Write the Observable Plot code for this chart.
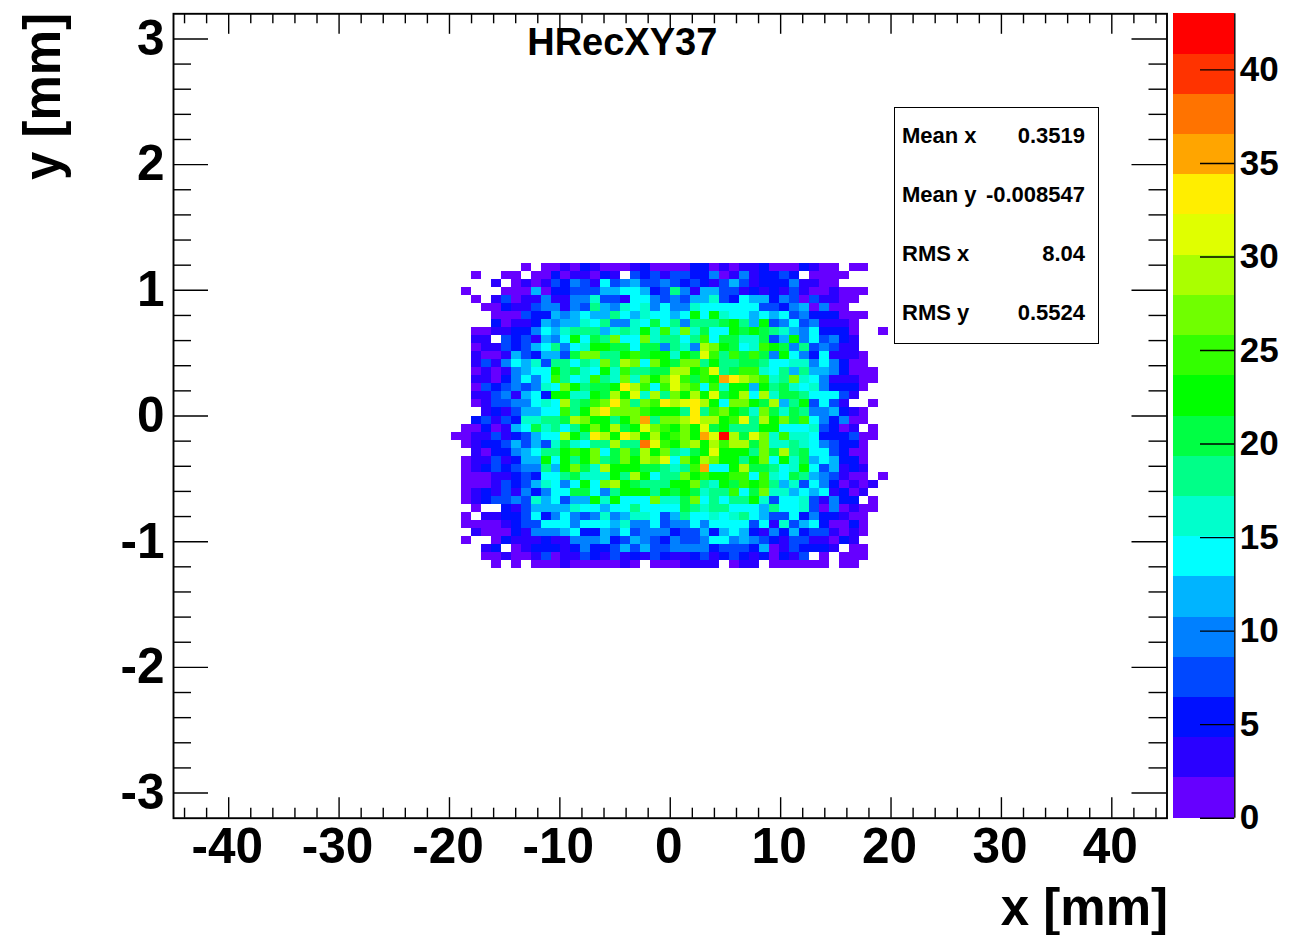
<!DOCTYPE html>
<html><head><meta charset="utf-8">
<script src="https://cdn.jsdelivr.net/npm/d3@7"></script>
<script src="https://cdn.jsdelivr.net/npm/@observablehq/plot@0.6"></script>
<style>
html,body{margin:0;padding:0;background:#fff;overflow:hidden}
#wrap{position:relative;width:1302px;height:935px;font-family:"Liberation Sans",Arial,sans-serif;font-weight:700;color:#000}
#wrap svg{position:absolute;top:0;background:transparent}
#stats{position:absolute;left:894px;top:107px;width:203px;height:235px;border:1.8px solid #000;background:#fff;font-size:22px;line-height:26px}
#stats .l{position:absolute;left:7px}
#stats .r{position:absolute;right:13px}
</style></head><body><div id="wrap"></div>
<script>
// Bin counts, lowest row first; first column is bin 28 of 100 on each axis
const row31=[0,0,0,0,1,0,1,0,1,1,1,3,1,1,1,1,1,3,1,0,1,1,1,3,3,3,3,0,1,3,3,0,1,1,1,1,1,1,0,1,1,0,0,0];
const row32=[0,0,0,1,1,3,1,1,3,7,1,3,3,7,5,3,7,3,5,3,7,5,3,3,5,7,3,5,7,5,3,5,1,5,3,7,0,1,0,1,1,1,0,0];
const row33=[0,0,0,3,5,0,1,3,5,5,5,3,5,9,5,5,7,11,7,11,7,7,9,9,9,9,5,7,7,7,5,11,1,3,7,5,5,5,3,0,1,1,0,0];
const row34=[0,1,0,0,1,5,3,3,3,5,3,3,9,9,9,11,5,7,11,9,7,5,9,7,7,9,14,14,9,11,9,7,5,3,7,7,3,3,1,5,3,0,0,0];
const row35=[0,0,3,1,1,1,5,3,9,9,9,11,14,5,5,11,9,14,7,9,9,9,5,7,7,11,5,11,14,11,5,3,9,5,11,5,7,7,3,1,3,1,0,0];
const row36=[0,1,1,1,1,3,5,7,7,14,14,14,9,14,14,14,11,16,9,9,14,7,9,9,14,9,14,14,14,14,7,14,3,16,7,11,14,5,1,1,5,1,0,0];
const row37=[0,1,0,3,3,5,5,7,14,5,9,14,9,7,9,16,9,11,16,16,14,7,11,18,14,14,16,14,16,18,14,11,7,7,14,5,9,5,5,3,1,1,0,0];
const row38=[0,0,1,0,0,5,3,7,11,11,11,11,16,14,14,11,14,14,18,14,14,14,14,20,18,16,18,18,14,14,14,11,18,14,14,16,7,1,9,1,3,1,1,0];
const row39=[0,1,3,5,7,7,9,7,16,11,14,7,11,11,22,16,22,14,14,14,26,16,16,20,26,14,18,14,18,18,22,16,7,14,14,16,7,3,9,5,5,0,1,0];
const row40=[0,1,3,5,3,7,3,9,5,9,14,14,20,20,14,9,18,22,22,22,18,22,20,22,20,16,18,18,24,14,20,26,16,16,11,14,11,14,3,5,1,3,0,0];
const row41=[0,1,1,1,3,7,5,7,11,16,14,9,14,22,14,26,29,22,20,18,18,18,22,22,26,18,16,22,20,24,22,24,18,11,16,7,14,9,5,1,3,1,3,0];
const row42=[0,1,1,1,3,3,5,7,5,14,14,18,20,16,16,16,22,18,29,22,14,18,18,26,22,24,22,22,24,24,14,24,16,14,20,18,11,9,7,3,1,1,0,1];
const row43=[0,1,3,5,7,5,7,9,9,18,11,22,26,20,16,29,22,22,22,20,20,18,16,18,24,35,14,14,22,29,20,20,18,14,16,22,14,7,11,3,5,3,0,0];
const row44=[0,1,3,3,7,3,5,11,11,22,14,22,18,22,26,18,20,26,22,29,26,31,14,26,22,29,26,22,22,18,22,26,14,22,16,20,11,14,11,5,5,1,0,0];
const row45=[0,0,3,1,5,5,9,11,14,18,18,22,24,22,26,14,20,26,20,29,22,26,18,16,20,22,31,22,22,22,18,26,20,29,18,20,14,14,7,5,1,1,0,0];
const row46=[0,1,3,5,5,7,11,7,11,7,16,20,16,14,18,18,29,18,18,37,31,24,22,26,29,22,29,24,29,29,20,26,16,16,18,16,14,9,7,5,5,1,0,0];
const row47=[1,1,3,3,7,3,5,7,11,14,14,29,22,18,33,29,22,33,29,22,29,22,24,26,22,35,31,42,29,20,31,26,16,24,16,16,14,5,5,5,7,1,1,0];
const row48=[0,1,1,5,1,3,11,14,20,16,18,14,18,22,26,22,29,20,22,31,26,24,22,26,22,31,20,22,18,18,18,22,22,14,14,14,16,7,5,1,3,0,1,0];
const row49=[0,0,5,7,3,7,5,16,16,18,18,20,29,26,22,22,18,22,26,35,18,26,26,29,33,29,29,22,24,31,18,29,22,26,20,24,14,9,5,9,1,1,0,0];
const row50=[0,0,0,3,5,3,7,11,11,14,14,24,18,22,29,33,26,26,26,24,22,22,22,18,33,18,24,26,22,20,16,26,20,16,20,18,9,9,11,5,3,1,0,0];
const row51=[0,0,1,3,7,7,9,9,14,16,14,29,18,20,24,26,33,26,18,26,24,33,29,31,33,29,22,14,26,26,22,20,29,11,18,22,7,14,7,3,0,0,1,0];
const row52=[0,0,3,3,7,9,3,11,14,5,22,22,16,16,22,20,29,22,31,16,29,18,26,22,29,22,31,20,22,29,14,29,16,20,20,18,14,14,14,7,3,0,0,0];
const row53=[0,0,1,7,5,7,9,7,9,16,14,26,22,18,20,20,22,33,29,24,14,24,31,26,24,14,24,16,22,22,11,22,18,20,16,14,16,9,5,5,5,1,0,0];
const row54=[0,0,3,3,1,5,9,14,9,14,24,18,14,16,24,18,16,26,16,26,22,26,31,24,20,24,22,35,33,29,26,24,16,18,26,16,14,9,3,3,3,1,1,0];
const row55=[0,0,1,3,1,3,9,11,14,14,22,18,20,16,14,22,16,24,18,18,20,20,29,29,22,24,31,18,20,24,24,16,14,18,11,18,11,11,9,5,1,1,1,0];
const row56=[0,0,3,7,3,9,14,11,16,7,18,18,14,18,16,26,18,29,26,14,26,22,20,26,26,18,22,18,18,20,20,18,14,14,16,16,9,14,9,5,1,1,0,0];
const row57=[0,0,3,1,1,3,11,7,5,11,11,7,20,26,26,18,18,22,24,20,22,22,16,22,20,31,24,18,24,20,24,20,9,22,14,9,5,14,3,3,3,1,0,0];
const row58=[0,0,1,3,3,7,5,7,11,14,18,9,14,16,22,22,20,20,14,20,20,9,18,16,9,29,26,22,20,14,16,24,22,20,9,18,7,9,7,3,3,0,0,0];
const row59=[0,0,3,3,0,7,5,7,3,11,9,14,22,14,20,18,26,14,14,26,16,18,18,14,18,24,14,20,20,16,16,20,7,11,22,9,14,7,9,5,3,0,0,0];
const row60=[0,0,1,1,3,3,5,5,9,14,11,16,18,18,18,11,16,18,16,22,16,24,16,26,16,20,14,14,22,20,22,20,18,16,11,9,14,5,5,5,1,0,0,1];
const row61=[0,0,0,0,5,1,3,3,5,11,9,11,11,16,14,18,9,9,16,14,20,14,18,9,18,18,18,20,22,18,11,22,7,9,14,7,9,3,3,3,1,0,0,0];
const row62=[0,0,0,0,1,1,1,7,5,5,11,9,11,14,11,11,18,14,11,16,14,14,11,14,22,14,22,16,14,14,11,14,11,14,7,9,5,5,5,1,1,1,0,0];
const row63=[0,0,0,1,1,5,3,3,7,9,9,3,9,7,18,11,9,16,14,16,9,14,9,9,16,14,14,14,14,14,14,7,7,5,9,11,1,9,1,1,0,0,0,0];
const row64=[0,0,1,0,3,7,1,3,3,9,3,3,9,9,16,7,7,3,14,14,9,7,9,7,11,11,16,7,5,14,11,11,5,9,7,1,7,3,3,1,1,0,0,0];
const row65=[0,1,0,0,0,1,1,1,11,1,5,5,7,7,7,11,11,14,14,11,5,7,18,9,3,11,11,7,7,3,5,3,5,3,7,3,1,1,3,1,1,1,0,0];
const row66=[0,0,0,0,3,0,1,3,1,3,7,5,9,7,3,14,7,9,11,7,7,9,7,5,7,5,3,7,11,7,3,5,5,5,9,3,3,1,1,0,0,0,0,0];
const row67=[0,0,1,0,0,1,1,0,1,1,5,1,3,3,1,5,3,0,7,5,7,3,7,7,5,5,9,1,3,9,3,5,5,7,5,0,1,1,1,1,0,0,0,0];
const row68=[0,0,0,0,0,0,0,1,0,1,1,3,1,5,3,1,1,1,3,5,1,1,1,1,5,5,1,3,1,3,3,5,1,1,1,5,3,1,1,0,1,1,0,0];
const rows=[row31,row32,row33,row34,row35,row36,row37,row38,row39,row40,row41,row42,row43,row44,row45,row46,row47,row48,row49,row50,row51,row52,row53,row54,row55,row56,row57,row58,row59,row60,row61,row62,row63,row64,row65,row66,row67,row68];

const palette=["#6600ff","#2a00ff","#0010ff","#0048ff","#0080ff","#00b4ff","#00ffff","#00ffcc","#00ff88","#00ff44","#00ff00","#33ff00","#70ff00","#aaff00","#e0ff00","#ffee00","#ffa500","#ff7300","#ff3300","#ff0000"];
const zMax=43;
const xMajor=[-40,-30,-20,-10,0,10,20,30,40];
const xMinor=[-44,-42,-38,-36,-34,-32,-28,-26,-24,-22,-18,-16,-14,-12,-8,-6,-4,-2,2,4,6,8,12,14,16,18,22,24,26,28,32,34,36,38,42,44];
const yMajor=[-3,-2,-1,0,1,2,3];
const yMinor=[-2.8,-2.6,-2.4,-2.2,-1.8,-1.6,-1.4,-1.2,-0.8,-0.6,-0.4,-0.2,0.2,0.4,0.6,0.8,1.2,1.4,1.6,1.8,2.2,2.4,2.6,2.8];
const zTicks=[0,5,10,15,20,25,30,35,40];
const statNames=["Mean x","Mean y","RMS x","RMS y"];
const statValues=["0.3519","-0.008547","8.04","0.5524"];
const titleText="HRecXY37", xTitle="x [mm]", yTitle="y [mm]";

const xBin=90/100, yBin=6.4/100, firstCol=28, firstRow=31;
const cells=rows.flatMap((r,j)=>r.map((v,i)=>({
  x1:-45+xBin*(firstCol+i), x2:-45+xBin*(firstCol+i+1),
  y1:-3.2+yBin*(firstRow+j), y2:-3.2+yBin*(firstRow+j+1), v})).filter(c=>c.v>0));
const bandSize=zMax/palette.length;
const bands=palette.map((c,k)=>({z1:k*bandSize,z2:(k+1)*bandSize,c}));
const font={fontFamily:"Liberation Sans, Arial, sans-serif",fontWeight:700};
const H=804.4,W=993.5;

const main=Plot.plot({
  width:1302,height:935,marginLeft:173,marginRight:135.5,marginTop:13.3,marginBottom:117.3,
  style:{background:"transparent",...font,overflow:"visible"},
  x:{domain:[-45,45]},y:{domain:[-3.2,3.2]},
  color:{type:"threshold",domain:palette.slice(1).map((_,k)=>(k+1)*bandSize),range:palette},
  marks:[
    Plot.rect(cells,{x1:"x1",x2:"x2",y1:"y1",y2:"y2",fill:"v",shapeRendering:"crispEdges"}),
    Plot.tickX(xMajor,{x:d=>d,insetTop:H-20.5,stroke:"#000",strokeWidth:1.4}),
    Plot.tickX(xMajor,{x:d=>d,insetBottom:H-20.5,stroke:"#000",strokeWidth:1.4}),
    Plot.tickX(xMinor,{x:d=>d,insetTop:H-10,stroke:"#000",strokeWidth:1.4}),
    Plot.tickX(xMinor,{x:d=>d,insetBottom:H-10,stroke:"#000",strokeWidth:1.4}),
    Plot.tickY(yMajor,{y:d=>d,insetRight:W-35,stroke:"#000",strokeWidth:1.4}),
    Plot.tickY(yMajor,{y:d=>d,insetLeft:W-35,stroke:"#000",strokeWidth:1.4}),
    Plot.tickY(yMinor,{y:d=>d,insetRight:W-18,stroke:"#000",strokeWidth:1.4}),
    Plot.tickY(yMinor,{y:d=>d,insetLeft:W-18,stroke:"#000",strokeWidth:1.4}),
    Plot.frame({stroke:"#000",strokeWidth:1.9}),
    Plot.axisX(xMajor,{anchor:"bottom",tickSize:0,tickPadding:10,dx:-1.5,label:null,fontSize:49.5,tickFormat:d=>String(d),fill:"#000"}),
    Plot.axisY(yMajor,{anchor:"left",tickSize:0,tickPadding:9,label:null,fontSize:49.5,tickFormat:d=>String(d),fill:"#000"}),
    Plot.text([titleText],{frameAnchor:"top",dx:-48,dy:14,fontSize:38,fill:"#000",...font}),
    Plot.text([xTitle],{frameAnchor:"bottom-right",textAnchor:"end",dx:1,dy:107,fontSize:51,fill:"#000",...font}),
    Plot.text([yTitle],{frameAnchor:"top-left",textAnchor:"end",rotate:-90,dx:-150,dy:-1,fontSize:51,fill:"#000",...font})
  ]
});
main.style.left="0px";

const bar=Plot.plot({
  width:129,height:935,marginLeft:0,marginRight:67.7,marginTop:13.3,marginBottom:117.3,
  style:{background:"transparent",...font,overflow:"visible"},
  x:{domain:[0,1],axis:null},y:{domain:[0,zMax]},
  marks:[
    Plot.rect(bands,{x1:0,x2:1,y1:"z1",y2:"z2",fill:"c",shapeRendering:"crispEdges"}),
    Plot.tickY(zTicks,{y:d=>d,insetLeft:27,stroke:"#000",strokeWidth:1.4}),
    Plot.ruleX([1],{stroke:"#000",strokeWidth:1.4}),
    Plot.axisY(zTicks,{anchor:"right",tickSize:0,tickPadding:5,label:null,fontSize:35,tickFormat:d=>String(d),fill:"#000"})
  ]
});
bar.style.left="1173px";

const wrap=document.getElementById("wrap");
wrap.append(main,bar);

const stats=document.createElement("div");stats.id="stats";
const rowTop=[15,74,133,192];
statNames.forEach((n,k)=>{
  const a=document.createElement("div");a.className="l";a.style.top=rowTop[k]+"px";a.textContent=n;
  const b=document.createElement("div");b.className="r";b.style.top=rowTop[k]+"px";b.textContent=statValues[k];
  stats.append(a,b);
});
wrap.append(stats);
</script></body></html>
